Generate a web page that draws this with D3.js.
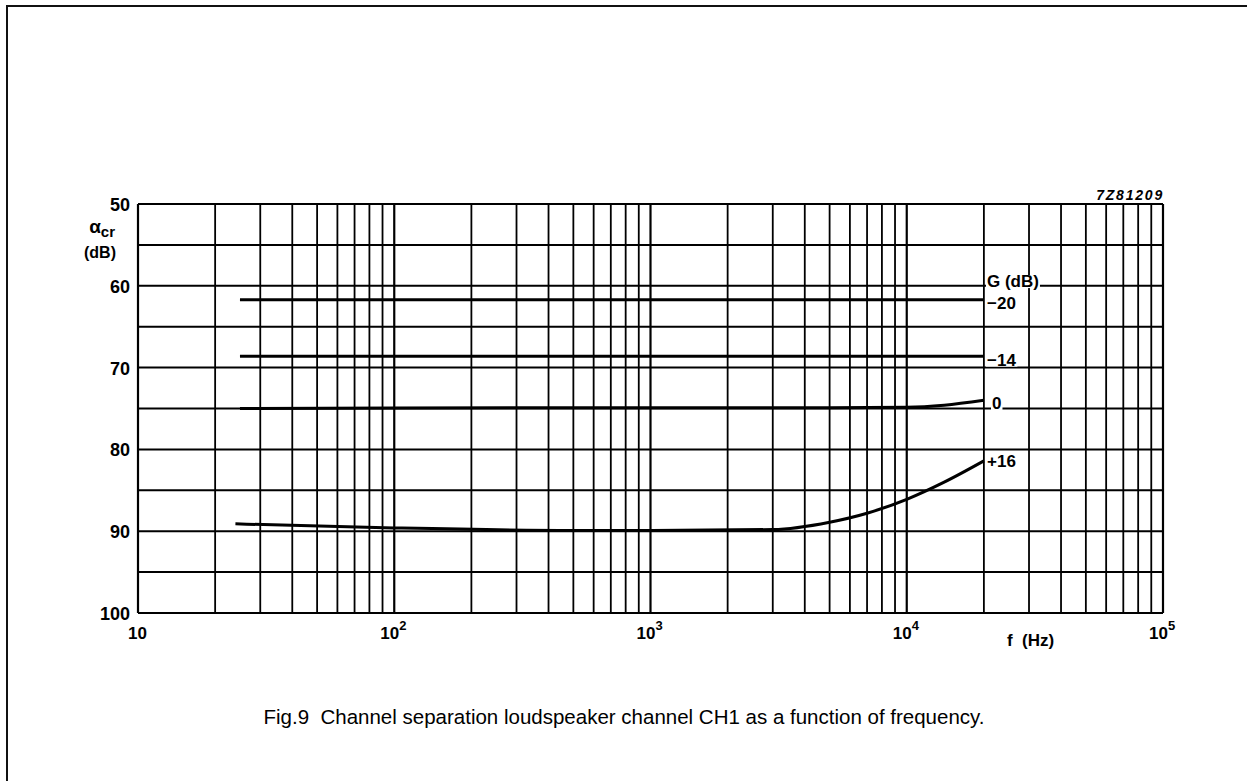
<!DOCTYPE html>
<html><head><meta charset="utf-8">
<script src="https://cdn.jsdelivr.net/npm/d3@7/dist/d3.min.js"></script>
<style>
body{margin:0;background:#fff;}
text{font-family:"Liberation Sans",Arial,Helvetica,sans-serif;}
</style></head>
<body><svg id="c" width="1247" height="781"></svg>
<script>
// ---- data ----
const yTicks = [50, 60, 70, 80, 90, 100];
const yGrid = [50, 55, 60, 65, 70, 75, 80, 85, 90, 95, 100];
const xDecades = [10, 100, 1000, 10000, 100000];
const xTickLabels = ["10", "10", "10", "10", "10"];
const xTickExps = ["", "2", "3", "4", "5"];
const gainLabels = ["\u221220", "\u221214", "0", "+16"];

const freqM20 = [25, 100, 1000, 10000, 20000];
const valM20  = [61.7, 61.7, 61.7, 61.7, 61.7];
const freqM14 = [25, 100, 1000, 10000, 20000];
const valM14  = [68.6, 68.6, 68.6, 68.6, 68.6];
const freq0   = [25, 100, 1000, 5000, 10000, 14000, 20000];
const val0    = [75.0, 74.95, 74.9, 74.9, 74.85, 74.6, 74.0];
const freqP16 = [24, 100, 500, 1000, 3000, 5000, 7000, 10000, 14000, 20000];
const valP16  = [89.1, 89.6, 89.9, 89.9, 89.8, 88.9, 87.8, 86.1, 84.0, 81.4];

// ---- drawing ----
const svg = d3.select("#c");
const x = d3.scaleLog().domain([10, 100000]).range([138, 1163]);
const y = d3.scaleLinear().domain([50, 100]).range([204, 613]);

// outer frame
svg.append("rect").attr("x", 7).attr("y", 6).attr("width", 1260).attr("height", 800)
  .attr("fill", "none").attr("stroke", "#111").attr("stroke-width", 2);

// vertical log grid
const vgrid = [];
for (let d = 10; d < 100000; d *= 10) for (let k = 2; k <= 9; k++) vgrid.push(d * k);
svg.append("g").selectAll("line").data(vgrid).join("line")
  .attr("x1", d => x(d)).attr("x2", d => x(d)).attr("y1", y(50)).attr("y2", y(100))
  .attr("stroke", "#000").attr("stroke-width", 1.8);
svg.append("g").selectAll("line").data(xDecades).join("line")
  .attr("x1", d => x(d)).attr("x2", d => x(d)).attr("y1", y(50)).attr("y2", y(100))
  .attr("stroke", "#000").attr("stroke-width", 2.2);
// horizontal grid
svg.append("g").selectAll("line").data(yGrid).join("line")
  .attr("x1", x(10)).attr("x2", x(100000)).attr("y1", d => y(d)).attr("y2", d => y(d))
  .attr("stroke", "#000").attr("stroke-width", 2);

// curves
const line = d3.line().x(d => x(d[0])).y(d => y(d[1])).curve(d3.curveMonotoneX);
const series = [[freqM20, valM20], [freqM14, valM14], [freq0, val0], [freqP16, valP16]];
svg.append("g").selectAll("path").data(series).join("path")
  .attr("d", s => line(s[0].map((f, i) => [f, s[1][i]])))
  .attr("fill", "none").attr("stroke", "#000").attr("stroke-width", 3);

// y tick labels
svg.append("g").selectAll("text").data(yTicks).join("text")
  .attr("x", 130).attr("y", d => y(d) + 7).attr("text-anchor", "end")
  .attr("font-size", 18).attr("font-weight", "bold").text(d => d);

// y axis title
const yt = svg.append("text").attr("x", 115).attr("y", 233).attr("text-anchor", "end")
  .attr("font-size", 19).attr("font-weight", "bold");
yt.append("tspan").text("\u03b1");
yt.append("tspan").attr("font-size", 15).attr("dy", 4).text("cr");
svg.append("text").attr("x", 116).attr("y", 258).attr("text-anchor", "end")
  .attr("font-size", 16).attr("font-weight", "bold").text("(dB)");

// x tick labels
const xl = svg.append("g").selectAll("text").data(xDecades).join("text")
  .attr("x", (d, i) => x(d) + (i === 0 ? -10 : -14)).attr("y", 639)
  .attr("font-size", 17).attr("font-weight", "bold");
xl.append("tspan").text((d, i) => xTickLabels[i]);
xl.append("tspan").attr("font-size", 13).attr("dy", -9).text((d, i) => xTickExps[i]);

// x axis title
svg.append("text").attr("x", 1007).attr("y", 646).attr("font-size", 17).attr("font-weight", "bold")
  .attr("xml:space", "preserve").text("f  (Hz)");

// figure code
svg.append("text").attr("x", 1164).attr("y", 200).attr("text-anchor", "end")
  .attr("font-size", 14).attr("font-weight", "bold").attr("font-style", "italic")
  .attr("letter-spacing", 1.8).text("7Z81209");

// right-side gain labels with white background
const labelPos = [
  {t: "G (dB)", v: 59.3},
  {t: gainLabels[0], v: 62.0},
  {t: gainLabels[1], v: 68.9},
  {t: gainLabels[2], v: 74.2},
  {t: gainLabels[3], v: 81.3}
];
const lg = svg.append("g").selectAll("g").data(labelPos).join("g");
lg.each(function(d) {
  const g = d3.select(this);
  const t = g.append("text").attr("x", 987 + (d.t === "0" ? 5 : 0)).attr("y", y(d.v) + 7)
    .attr("font-size", 17).attr("font-weight", "bold").text(d.t);
  const bb = t.node().getBBox();
  g.insert("rect", "text").attr("x", bb.x - 1).attr("y", bb.y + 3).attr("width", bb.width + 2)
    .attr("height", bb.height - 6).attr("fill", "#fff");
});

// caption
svg.append("text").attr("x", 624).attr("y", 724).attr("text-anchor", "middle")
  .attr("font-size", 20.5).attr("xml:space", "preserve")
  .text("Fig.9  Channel separation loudspeaker channel CH1 as a function of frequency.");
</script></body></html>
